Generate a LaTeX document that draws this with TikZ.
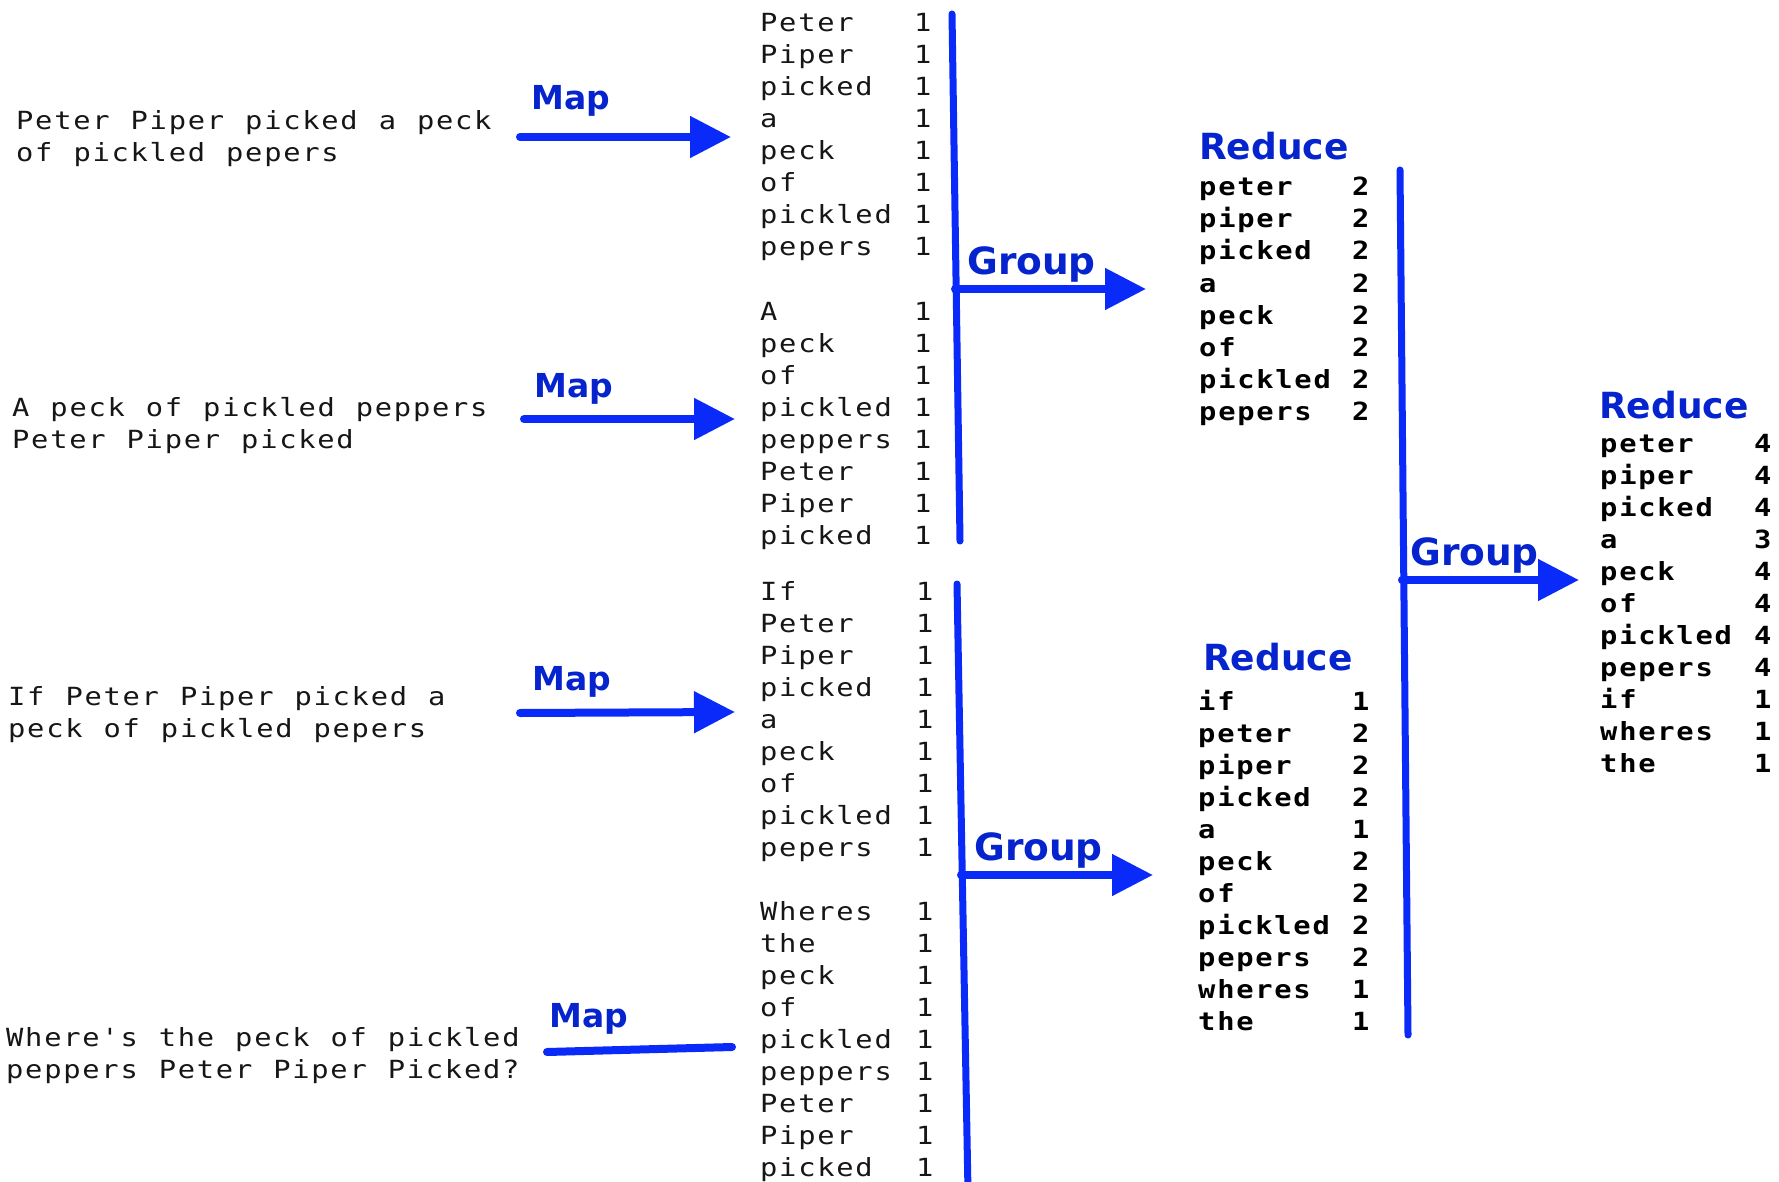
\documentclass[tikz,border=0pt]{standalone}
\usepackage{fontspec}
\usetikzlibrary{arrows.meta}
\newfontfamily\monof[FakeStretch=1.15,LetterSpace=7,WordSpace=1.1]{DejaVu Sans Mono}
\newfontfamily\lblf{DejaVu Sans}
\definecolor{arrowblue}{RGB}{10,42,250}
\definecolor{lblblue}{RGB}{6,36,205}
\definecolor{txtgray}{RGB}{22,22,22}
\begin{document}
\begin{tikzpicture}[x=1pt,y=-1pt,
  txt/.style={anchor=base west,inner sep=0pt,font=\monof\fontsize{25}{32}\selectfont,text=txtgray},
  btxt/.style={anchor=base west,inner sep=0pt,font=\monof\bfseries\fontsize{25}{32}\selectfont,text=black},
  maplbl/.style={anchor=base west,inner sep=0pt,font=\lblf\bfseries\fontsize{33}{36}\selectfont,text=lblblue},
  lbl/.style={anchor=base west,inner sep=0pt,font=\lblf\bfseries\fontsize{36}{40}\selectfont,text=lblblue},
  grplbl/.style={anchor=base west,inner sep=0pt,font=\lblf\bfseries\fontsize{37.5}{40}\selectfont,text=lblblue},
  flow/.style={draw=arrowblue,line width=8pt,line cap=round,-{Triangle[length=41pt 0 0,width=40pt 0 0]}},
  flowline/.style={draw=arrowblue,line width=8pt,line cap=round},
  bar/.style={draw=arrowblue,line width=7pt,line cap=round}]
\useasboundingbox (0,0) rectangle (1779,1182);

% input sentences
\node[txt] (in1a) at (16,130) {Peter Piper picked a peck};
\node[txt] (in1b) at (16,162) {of pickled pepers};
\node[txt] (in2a) at (12,416) {A peck of pickled peppers};
\node[txt] (in2b) at (12,448) {Peter Piper picked};
\node[txt] (in3a) at (8,705) {If Peter Piper picked a};
\node[txt] (in3b) at (8,737) {peck of pickled pepers};
\node[txt] (in4a) at (6,1046) {Where's the peck of pickled};
\node[txt] (in4b) at (6,1078) {peppers Peter Piper Picked?};

% map labels
\node[maplbl] (map1) at (531,110) {Map};
\node[maplbl] (map2) at (534,397) {Map};
\node[maplbl] (map3) at (532,690) {Map};
\node[maplbl] (map4) at (549,1027) {Map};

% map arrows
\coordinate (m1s) at (520,137); \coordinate (m1e) at (731,137);
\coordinate (m2s) at (524,419); \coordinate (m2e) at (735,419);
\coordinate (m3s) at (520,713); \coordinate (m3e) at (735,712);
\coordinate (m4s) at (547,1052); \coordinate (m4e) at (732,1047);
\draw[flow] (m1s) -- (m1e);
\draw[flow] (m2s) -- (m2e);
\draw[flow] (m3s) -- (m3e);
\draw[flowline] (m4s) -- (m4e);

% mapped lists
\foreach \w [count=\i from 0] in {Peter,Piper,picked,a,peck,of,pickled,pepers}{
  \node[txt] (aw\i) at (760,{32+32*\i}) {\w};
  \node[txt] (an\i) at (914,{32+32*\i}) {1};
}
\foreach \w [count=\i from 0] in {A,peck,of,pickled,peppers,Peter,Piper,picked}{
  \node[txt] (bw\i) at (760,{320+32*\i}) {\w};
  \node[txt] (bn\i) at (914,{320+32*\i}) {1};
}
\foreach \w [count=\i from 0] in {If,Peter,Piper,picked,a,peck,of,pickled,pepers}{
  \node[txt] (cw\i) at (760,{600+32*\i}) {\w};
  \node[txt] (cn\i) at (916,{600+32*\i}) {1};
}
\foreach \w [count=\i from 0] in {Wheres,the,peck,of,pickled,peppers,Peter,Piper,picked}{
  \node[txt] (dw\i) at (760,{920+32*\i}) {\w};
  \node[txt] (dn\i) at (916,{920+32*\i}) {1};
}

% group bars
\coordinate (b1t) at (952,14); \coordinate (b1b) at (960,541);
\coordinate (b2t) at (957,584); \coordinate (b2b) at (968,1192);
\coordinate (b3t) at (1400,170); \coordinate (b3b) at (1408,1035);
\draw[bar] (b1t) -- (b1b);
\draw[bar] (b2t) -- (b2b);
\draw[bar] (b3t) -- (b3b);

% group arrows
\coordinate (g1s) at (955,289); \coordinate (g1e) at (1146,289);
\coordinate (g2s) at (961,875); \coordinate (g2e) at (1153,875);
\coordinate (g3s) at (1402,580); \coordinate (g3e) at (1579,580);
\draw[flow] (g1s) -- (g1e);
\draw[flow] (g2s) -- (g2e);
\draw[flow] (g3s) -- (g3e);
\node[grplbl] (grp1) at (967,274) {Group};
\node[grplbl] (grp2) at (974,860) {Group};
\node[grplbl] (grp3) at (1410,565) {Group};

% reduce blocks
\node[lbl] (red1) at (1199,160) {Reduce};
\node[lbl] (red2) at (1203,670) {Reduce};
\node[lbl] (red3) at (1599,418) {Reduce};
\foreach \w/\n [count=\i from 0] in {peter/2,piper/2,picked/2,a/2,peck/2,of/2,pickled/2,pepers/2}{
  \node[btxt] (rw\i) at (1199,{196+32*\i}) {\w};
  \node[btxt] (rn\i) at (1352,{196+32*\i}) {\n};
}
\foreach \w/\n [count=\i from 0] in {if/1,peter/2,piper/2,picked/2,a/1,peck/2,of/2,pickled/2,pepers/2,wheres/1,the/1}{
  \node[btxt] (sw\i) at (1198,{710+32*\i}) {\w};
  \node[btxt] (sn\i) at (1352,{710+32*\i}) {\n};
}
\foreach \w/\n [count=\i from 0] in {peter/4,piper/4,picked/4,a/3,peck/4,of/4,pickled/4,pepers/4,if/1,wheres/1,the/1}{
  \node[btxt] (tw\i) at (1600,{452+32*\i}) {\w};
  \node[btxt] (tn\i) at (1754,{452+32*\i}) {\n};
}
\end{tikzpicture}
\end{document}
